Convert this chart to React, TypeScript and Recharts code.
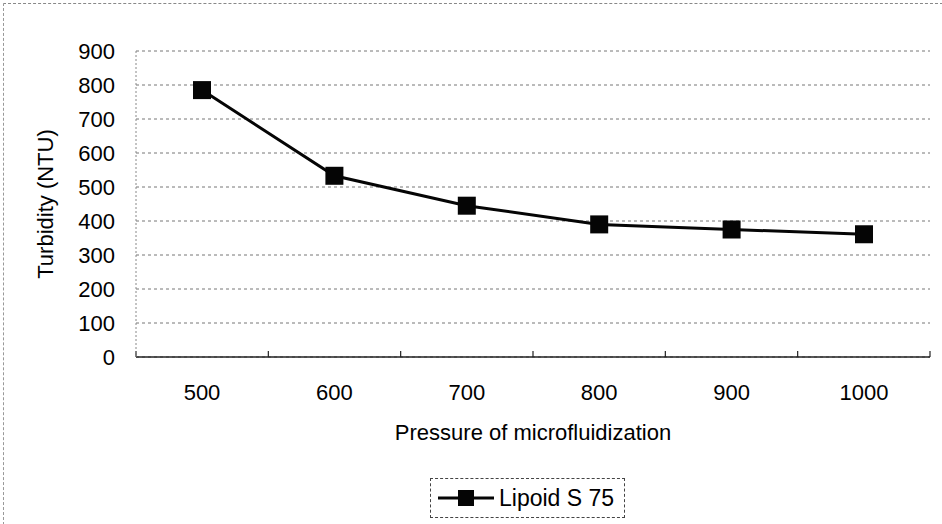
import { CartesianGrid, Label, Legend, Line, LineChart, XAxis, YAxis } from "recharts";

const pressures = ["500", "600", "700", "800", "900", "1000"];
const turbidity = [785, 533, 445, 390, 375, 361];
const yTicks = [0, 100, 200, 300, 400, 500, 600, 700, 800, 900];
const boundaryTicks = [0, 1, 2, 3, 4, 5, 6];

const FONT = "'Liberation Sans', Arial, sans-serif";

const data = pressures.map((p, i) => ({ pressure: p, value: turbidity[i] }));

function SquareDot(props: any) {
  const { cx, cy } = props;
  if (cx == null || cy == null) return null;
  return <rect x={cx - 9} y={cy - 9} width={18} height={18} fill="#050505" />;
}

function LegendBox() {
  return (
    <div
      style={{
        display: "inline-flex",
        alignItems: "center",
        boxSizing: "border-box",
        height: 40,
        border: "1px dashed #444",
        padding: "0 10px 0 6px",
        fontFamily: FONT,
        fontSize: 23,
        color: "#000",
        gap: 4,
      }}
    >
      <svg width={58} height={24}>
        <line x1={1} y1={12} x2={57} y2={12} stroke="#050505" strokeWidth={3} />
        <rect x={21} y={4} width={16} height={16} fill="#050505" />
      </svg>
      <span>Lipoid S 75</span>
    </div>
  );
}

export default function App() {
  return (
    <div style={{ position: "absolute", left: 0, top: 0, width: 942, height: 524, background: "#fff" }}>
      <div
        style={{
          position: "absolute",
          left: 3,
          top: 3,
          width: 939,
          height: 521,
          borderTop: "1px dashed #888",
          borderLeft: "1px dashed #999",
        }}
      />
      <LineChart
        width={942}
        height={524}
        data={data}
        margin={{ top: 51, right: 12, left: 0, bottom: 14 }}
      >
        <CartesianGrid vertical={false} stroke="#777" strokeDasharray="3 3" />
        <XAxis
          xAxisId="bounds"
          dataKey="bandEdge"
          type="number"
          scale="linear"
          domain={[0, 6]}
          allowDataOverflow
          ticks={boundaryTicks}
          interval={0}
          height={1}
          mirror
          tick={{ fontSize: 0 }}
          tickFormatter={() => ""}
          tickSize={6}
          axisLine={false}
          tickLine={{ stroke: "#222", strokeWidth: 1.2 }}
        />
        <XAxis
          dataKey="pressure"
          height={153}
          padding={{ left: 66, right: 66 }}
          tickLine={false}
          tickSize={8}
          tickMargin={19}
          axisLine={{ stroke: "#222", strokeWidth: 1.5 }}
          tick={{ fontFamily: FONT, fontSize: 22, fill: "#000" }}
        >
          <Label
            value="Pressure of microfluidization"
            position="center"
            dy={-1}
            style={{ fontFamily: FONT, fontSize: 22, fill: "#000" }}
          />
        </XAxis>
        <YAxis
          width={136}
          domain={[0, 900]}
          ticks={yTicks}
          interval={0}
          tickLine={false}
          tickSize={0}
          tickMargin={21}
          axisLine={{ stroke: "#888", strokeDasharray: "2 2" }}
          tick={{ fontFamily: FONT, fontSize: 22, fill: "#000" }}
        >
          <Label
            value="Turbidity (NTU)"
            position="center"
            angle={-90}
            dx={-23}
            style={{ fontFamily: FONT, fontSize: 22, fill: "#000", textAnchor: "middle" }}
          />
        </YAxis>
        <Legend
          layout="horizontal"
          verticalAlign="middle"
          align="center"
          wrapperStyle={{ top: 478, left: 430, width: 260, textAlign: "left" }}
          content={() => <LegendBox />}
        />
        <Line
          dataKey="value"
          name="Lipoid S 75"
          stroke="#050505"
          strokeWidth={3}
          type="linear"
          dot={<SquareDot />}
          activeDot={false}
          isAnimationActive={false}
        />
      </LineChart>
    </div>
  );
}
